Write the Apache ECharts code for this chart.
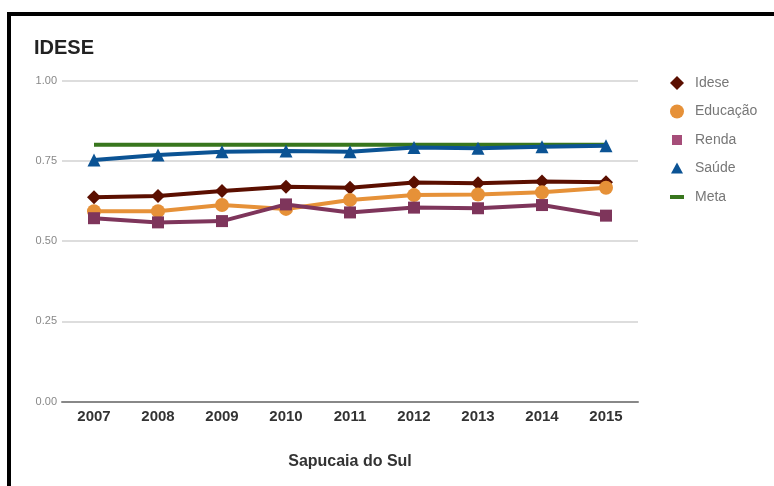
<!DOCTYPE html>
<html>
<head>
<meta charset="utf-8">
<script src="https://cdn.jsdelivr.net/npm/echarts@6/dist/echarts.min.js"></script>
<style>
  html, body { margin: 0; padding: 0; background: #fff; }
  #frame { position: absolute; left: 7px; top: 12px; width: 767px; height: 474px;
           border-top: 4px solid #000; border-left: 4px solid #000; box-sizing: border-box; }
  #chart { position: absolute; left: 0; top: 0; width: 774px; height: 486px; }
</style>
</head>
<body>
<div id="frame"></div>
<div id="chart"></div>
<script>
const titleText = 'IDESE';
const xAxisName = 'Sapucaia do Sul';
const years = ['2007','2008','2009','2010','2011','2012','2013','2014','2015'];
const yTicks = [0, 0.25, 0.5, 0.75, 1.0];
const idese    = [0.636, 0.640, 0.656, 0.669, 0.666, 0.682, 0.680, 0.685, 0.683];
const educacao = [0.593, 0.593, 0.612, 0.600, 0.628, 0.643, 0.645, 0.652, 0.666];
const renda    = [0.571, 0.558, 0.562, 0.614, 0.589, 0.604, 0.602, 0.612, 0.579];
const saude    = [0.752, 0.768, 0.778, 0.780, 0.778, 0.791, 0.789, 0.794, 0.797];
const meta     = [0.80, 0.80, 0.80, 0.80, 0.80, 0.80, 0.80, 0.80, 0.80];

const colors = { idese: '#5b0f00', edu: '#e69138', renda: '#7e355b', rendaLegend: '#a64d79', saude: '#0b5394', meta: '#38761d' };
const lineIcon = 'path://M0,0L0,0M14,14L14,14M0,5L14,5L14,9L0,9Z';

const chart = echarts.init(document.getElementById('chart'));
chart.setOption({
  animation: false,
  title: {
    text: titleText, left: 29, top: 33,
    textStyle: { fontFamily: 'Liberation Sans, Arial, sans-serif', fontSize: 20, fontWeight: 'bold', color: '#222' }
  },
  legend: {
    orient: 'vertical', left: 665, top: 71,
    itemWidth: 14, itemHeight: 14, itemGap: 14.5,
    textStyle: { fontFamily: 'Liberation Sans, Arial, sans-serif', fontSize: 14, color: '#777', padding: [0, 0, 0, 6] },
    data: [
      { name: 'Idese', icon: 'diamond', itemStyle: { color: colors.idese } },
      { name: 'Educação', icon: 'circle', itemStyle: { color: colors.edu } },
      { name: 'Renda', icon: 'path://M0,0L0,0M14,14L14,14M2,2L12,2L12,12L2,12Z', itemStyle: { color: colors.rendaLegend } },
      { name: 'Saúde', icon: 'path://M0,0L0,0M14,14L14,14M7,1L13,12L1,12Z', itemStyle: { color: colors.saude } },
      { name: 'Meta', icon: lineIcon, itemStyle: { color: colors.meta } }
    ]
  },
  grid: { left: 62, right: 136, top: 80.5, bottom: 84.5 },
  xAxis: {
    type: 'category', data: years, boundaryGap: true,
    axisTick: { show: false },
    axisLine: { lineStyle: { color: '#888', width: 2 } },
    axisLabel: { margin: 8, fontFamily: 'Liberation Sans, Arial, sans-serif', fontSize: 15, fontWeight: 'bold', color: '#333' },
    name: xAxisName, nameLocation: 'middle', nameGap: 52,
    nameTextStyle: { fontFamily: 'Liberation Sans, Arial, sans-serif', fontSize: 16, fontWeight: 'bold', color: '#333' }
  },
  yAxis: {
    type: 'value', min: yTicks[0], max: yTicks[yTicks.length - 1], interval: 0.25,
    axisLine: { show: false }, axisTick: { show: false },
    splitLine: { lineStyle: { color: '#ddd', width: 2 } },
    axisLabel: { margin: 5, fontFamily: 'Liberation Sans, Arial, sans-serif', fontSize: 11, color: '#888',
      formatter: v => v.toFixed(2) }
  },
  series: [
    { name: 'Meta', type: 'line', data: meta, showSymbol: false, symbol: 'none', z: 1,
      lineStyle: { color: colors.meta, width: 4 }, itemStyle: { color: colors.meta } },
    { name: 'Idese', type: 'line', data: idese, symbol: 'diamond', symbolSize: 14, z: 2,
      lineStyle: { color: colors.idese, width: 4 }, itemStyle: { color: colors.idese } },
    { name: 'Educação', type: 'line', data: educacao, symbol: 'circle', symbolSize: 14, z: 2,
      lineStyle: { color: colors.edu, width: 4 }, itemStyle: { color: colors.edu } },
    { name: 'Renda', type: 'line', data: renda, symbol: 'rect', symbolSize: 12, z: 3,
      lineStyle: { color: colors.renda, width: 4 }, itemStyle: { color: colors.renda } },
    { name: 'Saúde', type: 'line', data: saude, symbol: 'triangle', symbolSize: 13, z: 3,
      lineStyle: { color: colors.saude, width: 4 }, itemStyle: { color: colors.saude } }
  ]
});
</script>
</body>
</html>
